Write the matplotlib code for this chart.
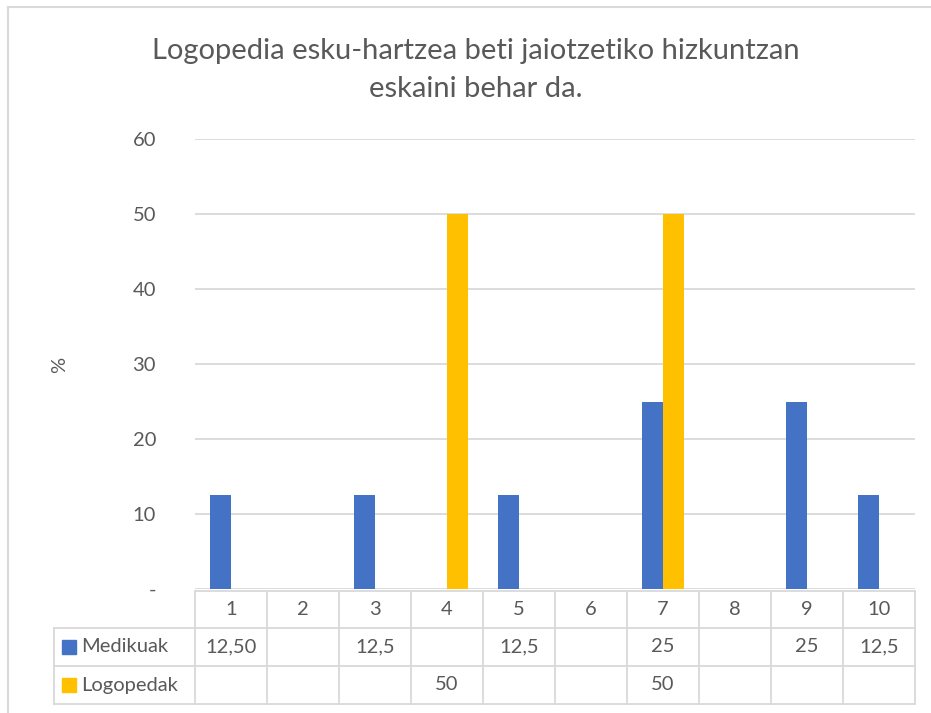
import numpy as np
import matplotlib
matplotlib.use("Agg")
import matplotlib.pyplot as plt
from matplotlib.lines import Line2D
from matplotlib.patches import Rectangle

plt.rcParams['font.family'] = ['Lato', 'DejaVu Sans']

categories = ["1", "2", "3", "4", "5", "6", "7", "8", "9", "10"]
medikuak = [12.5, np.nan, 12.5, np.nan, 12.5, np.nan, 25, np.nan, 25, 12.5]
logopedak = [np.nan, np.nan, np.nan, 50, np.nan, np.nan, 50, np.nan, np.nan, np.nan]
medikuak_txt = ["12,50", "", "12,5", "", "12,5", "", "25", "", "25", "12,5"]
logopedak_txt = ["", "", "", "50", "", "", "50", "", "", ""]
series_names = ["Medikuak", "Logopedak"]
yticks = [0, 10, 20, 30, 40, 50, 60]
ytick_labels = ["-", "10", "20", "30", "40", "50", "60"]
title = "Logopedia esku-hartzea beti jaiotzetiko hizkuntzan\neskaini behar da."

BLUE = "#4472C4"
YELLOW = "#FFC000"
TXT = "#595959"
GRID = "#D9D9D9"

W, H = 931, 713
fig = plt.figure(figsize=(W / 100, H / 100), dpi=100)


def fx(px):
    return px / W


def fy(py):
    return 1 - py / H


# chart frame (left and top edges visible)
fig.add_artist(Line2D([fx(8), fx(8)], [fy(7), fy(720)], color=GRID, lw=1.5))
fig.add_artist(Line2D([fx(8), fx(940)], [fy(7), fy(7)], color=GRID, lw=1.5))

ax = fig.add_axes([fx(195), fy(589), 720 / W, 450 / H])
x = np.arange(1, len(categories) + 1)
bw = 0.29
ax.bar(x - bw / 2, medikuak, bw, color=BLUE, zorder=3)
ax.bar(x + bw / 2, logopedak, bw, color=YELLOW, zorder=3)

ax.set_xlim(0.5, len(categories) + 0.5)
ax.set_ylim(0, 60)
ax.set_yticks(yticks)
ax.set_yticklabels(ytick_labels)
ax.set_xticks([])
ax.tick_params(axis='y', length=0, pad=28, labelsize=14.5, labelcolor=TXT)
ax.grid(axis='y', color=GRID, lw=1.3, zorder=0)
for s in ax.spines.values():
    s.set_visible(False)

fig.text(fx(60), fy(365), "%", rotation=90, ha='center', va='center',
         fontsize=14.5, color=TXT)
fig.text(fx(476), fy(70), title, ha='center', va='center', fontsize=21,
         color=TXT, linespacing=1.55)

# data table under the axis
rows_px = [591, 628, 666, 704]
left_px = 54
right_px = 915
lw = 1.3
fig.add_artist(Line2D([fx(195), fx(right_px)], [fy(rows_px[0])] * 2, color=GRID, lw=lw))
for r in rows_px[1:]:
    fig.add_artist(Line2D([fx(left_px), fx(right_px)], [fy(r)] * 2, color=GRID, lw=lw))
fig.add_artist(Line2D([fx(left_px)] * 2, [fy(rows_px[1]), fy(rows_px[3])], color=GRID, lw=lw))

trans = ax.get_xaxis_transform()
for b in np.arange(0.5, len(categories) + 1):
    ax.add_line(Line2D([b, b], [(589 - rows_px[0]) / 450, (589 - rows_px[3]) / 450],
                       transform=trans, color=GRID, lw=lw, clip_on=False))

row_text = [categories, medikuak_txt, logopedak_txt]
for i, texts in enumerate(row_text):
    yc = (rows_px[i] + rows_px[i + 1]) / 2
    for xi, t in zip(x, texts):
        ax.text(xi, (589 - yc) / 450, t, transform=trans, ha='center', va='center',
                fontsize=14.5, color=TXT, clip_on=False)

for i, (name, col) in enumerate(zip(series_names, [BLUE, YELLOW])):
    yc = (rows_px[i + 1] + rows_px[i + 2]) / 2
    fig.add_artist(Rectangle((fx(62), fy(yc + 7)), 14 / W, 14 / H, color=col))
    fig.text(fx(81), fy(yc), name, ha='left', va='center', fontsize=14.5, color=TXT)

fig.savefig("out.png", dpi=100)
